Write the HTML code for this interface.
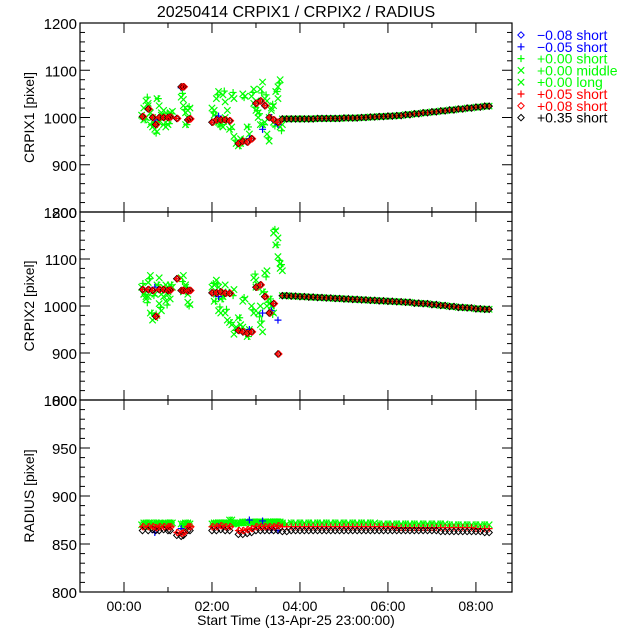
<!DOCTYPE html>
<html><head><meta charset="utf-8"><style>
body{margin:0;background:#fff}
svg{display:block;font-family:"Liberation Sans",sans-serif}
</style></head><body>
<svg id="chart" width="640" height="640" viewBox="0 0 640 640" xmlns="http://www.w3.org/2000/svg">
<rect width="640" height="640" fill="#fff"/>
<text x="296" y="17" font-size="16" text-anchor="middle">20250414 CRPIX1 / CRPIX2 / RADIUS</text>
<g id="axes"></g><g id="marks"></g><g id="legend"></g>
<text x="296" y="625" font-size="14" text-anchor="middle">Start Time (13-Apr-25 23:00:00)</text>
</svg>
<script>
// ---- data ----
const xTicks=["00:00","02:00","04:00","06:00","08:00"];
const xTickHours=[0,2,4,6,8];
const p1Ticks=[800,900,1000,1100,1200];
const p3Ticks=[800,850,900,950,1000];
const tTail=[3.6,3.8,4.0,4.2,4.4,4.6,4.8,5.0,5.2,5.4,5.6,5.8,6.0,6.2,6.4,6.6,6.8,7.0,7.2,7.4,7.6,7.8,8.0,8.2];
const c1Tail=[997,997,997,997,998,998,998,999,999,1000,1001,1002,1003,1004,1006,1008,1010,1012,1014,1016,1018,1020,1022,1024];
const c2Tail=[1022,1021,1020,1019,1018,1017,1016,1015,1014,1013,1012,1011,1010,1009,1008,1006,1005,1003,1001,999,997,996,994,993];
const rTailBlack=[863,864,864,864,864,864,864,864,864,864,864,864,864,864,864,864,864,864,863,863,863,863,863,862];
const rTailRed=[868,868,868,868,868,868,868,868,868,868,868,868,868,867,867,867,867,867,867,867,867,867,866,866];
const rTailGreen=[871,872,872,872,872,872,872,872,872,872,872,871,871,871,871,871,871,871,871,870,870,870,870,870];
const tEarly=[0.42,0.55,0.65,0.72,0.8,0.9,1.0,1.05,1.2,1.3,1.35,1.45,1.5,2.0,2.1,2.2,2.3,2.4,2.6,2.7,2.8,2.9,3.0,3.1,3.2,3.3,3.4,3.5];
const c1Early=[1002,1018,1000,985,1000,1000,1000,1001,998,1065,1065,995,997,990,995,995,995,993,945,950,948,955,1030,1035,1025,1000,995,990];
const c2Early=[1035,1035,1033,978,1035,1035,1033,1034,1058,1033,1033,1032,1033,1028,1028,1030,1027,1027,948,945,942,945,1040,1045,1020,985,1005,898];
const rEarlyBlack=[864,864,865,864,864,865,864,864,859,858,859,864,864,864,864,865,864,864,860,860,861,862,864,864,864,864,864,864];
const rEarlyRed=[868,868,868,867,868,868,868,868,862,861,862,868,868,868,868,869,868,868,864,864,865,866,868,868,868,868,868,869];
const tGreen=[0.4,0.45,0.5,0.55,0.6,0.65,0.7,0.75,0.8,0.85,0.9,0.95,1.0,1.05,1.3,1.35,1.4,1.45,2.0,2.05,2.1,2.15,2.2,2.25,2.3,2.4,2.45,2.5,2.6,2.65,2.7,2.8,2.9,2.95,3.0,3.05,3.1,3.15,3.2,3.25,3.3,3.35,3.4,3.45,3.5,3.55];
const c1Green=[1005,995,1035,1025,985,980,975,1040,990,1010,985,1000,995,1008,1043,1025,985,1015,1020,1005,1040,990,985,1048,1000,975,1045,960,940,945,1050,980,1045,1030,1015,1000,1060,985,1040,965,1000,1020,990,1055,1065,980];
const c2Green=[1040,1025,1015,1050,985,1030,975,1045,1005,1025,1040,1010,1030,1045,1060,1030,1040,1008,1040,1010,1055,990,1015,1030,985,965,1030,940,975,960,1010,935,1000,1060,1040,985,960,1030,1070,1000,1015,990,1155,1130,1105,1080];
const rGreen=[870,872,871,868,872,870,870,872,871,871,870,872,871,872,871,868,872,871,871,872,871,872,872,871,872,875,872,871,872,872,873,872,873,872,873,872,872,873,872,872,873,873,872,873,873,872];
const tBlue=[0.7,1.3,2.15,2.85,3.15,3.35,3.5];
const c1Blue=[995,1063,1003,955,975,1000,985];
const c2Blue=[1040,1033,1020,950,985,990,970];
const rBlue=[862,866,868,875,874,865,864];
// ---- scales ----
const X0=80,X1=512,TMIN=-1.0,TMAX=8.82;
const panels=[{top:23,bot:212,min:800,max:1200},{top:212,bot:400,min:800,max:1200},{top:400,bot:592,min:800,max:1000}];
const xs=t=>X0+(t-TMIN)/(TMAX-TMIN)*(X1-X0);
const ys=(p,v)=>{const P=panels[p];return P.bot-(v-P.min)/(P.max-P.min)*(P.bot-P.top);};
const NS="http://www.w3.org/2000/svg";
function mk(tag,attrs,parent){const e=document.createElementNS(NS,tag);for(const k in attrs)e.setAttribute(k,attrs[k]);parent.appendChild(e);return e;}
const axes=document.getElementById('axes'),marks=document.getElementById('marks'),legend=document.getElementById('legend');
panels.forEach((P,i)=>{
  const fr=mk('rect',{x:X0,y:P.top,width:X1-X0,height:P.bot-P.top,fill:'none',stroke:'#000','stroke-width':1.2},axes);
  
  
  for(let h=-1;h<=8;h++){const x=xs(h);const L=(h%2===0)?10:5;
    mk('line',{x1:x,x2:x,y1:P.bot,y2:P.bot-L,stroke:'#000'},axes);
    mk('line',{x1:x,x2:x,y1:P.top,y2:P.top+L,stroke:'#000'},axes);}
  const ticks=i<2?p1Ticks:p3Ticks;const step=i<2?20:10;
  for(let v=P.min;v<=P.max;v+=step){const y=ys(i,v);const maj=ticks.includes(v);const L=maj?10:5;
    mk('line',{x1:X0,x2:X0+L,y1:y,y2:y,stroke:'#000'},axes);
    mk('line',{x1:X1,x2:X1-L,y1:y,y2:y,stroke:'#000'},axes);}
  ticks.forEach(v=>{const t=mk('text',{x:X0-3,y:ys(i,v)+6,'font-size':15,'text-anchor':'end'},axes);t.textContent=v;
    
    });
  const lab=['CRPIX1 [pixel]','CRPIX2 [pixel]','RADIUS [pixel]'][i];
  const cy=(P.top+P.bot)/2;
  const yt=mk('text',{x:0,y:0,'font-size':14,'text-anchor':'middle',transform:`translate(34,${cy}) rotate(-90)`},axes);yt.textContent=lab;
  
  
});
xTicks.forEach((s,j)=>{const t=mk('text',{x:xs(xTickHours[j]),y:611,'font-size':14,'text-anchor':'middle'},axes);t.textContent=s;
  
  });
function sym(type,x,y,col,g){
  if(type==='d')mk('path',{d:`M${x} ${y-3.2}L${x+3.2} ${y}L${x} ${y+3.2}L${x-3.2} ${y}Z`,fill:'none',stroke:col,'stroke-width':1},g);
  else if(type==='p')mk('path',{d:`M${x-3.5} ${y}H${x+3.5}M${x} ${y-3.5}V${y+3.5}`,stroke:col,'stroke-width':1.2},g);
  else mk('path',{d:`M${x-3.2} ${y-3.2}L${x+3.2} ${y+3.2}M${x-3.2} ${y+3.2}L${x+3.2} ${y-3.2}`,stroke:col,'stroke-width':1.2},g);
}
function series(name,type,col,ts,a,b,r){
  const g=mk('g',{},marks);
  
  
  ts.forEach((t,k)=>{const x=xs(t);
    sym(type,x,ys(0,a[k]),col,g);sym(type,x,ys(1,b[k]),col,g);sym(type,x,ys(2,r[k]),col,g);});
}
const G='#00ff00';
const tTailB=tTail.map(t=>t+0.1);
series('series-green-long','x',G,tGreen.concat(tTail,tTailB),c1Green.concat(c1Tail,c1Tail),c2Green.concat(c2Tail,c2Tail),rGreen.concat(rTailGreen,rTailGreen));
series('series-green-middle','x',G,tGreen.map(t=>t+0.05),c1Green.map((v,k)=>v-(k%4-1.5)*10),c2Green.map((v,k)=>v+(k%4-1.5)*10),rGreen);
series('series-green-short','p',G,tGreen.map(t=>t+0.03).concat(tTail),c1Green.map((v,k)=>v+(k%3-1)*8).concat(c1Tail),c2Green.map((v,k)=>v-(k%3-1)*8).concat(c2Tail),rGreen.concat(rTailGreen));
series('series-blue-short-plus','p','#0000ff',tBlue,c1Blue,c2Blue,rBlue);
series('series-red-short-plus','p','#ff0000',tEarly.concat(tTail,tTailB),c1Early.concat(c1Tail,c1Tail),c2Early.concat(c2Tail,c2Tail),rEarlyRed.concat(rTailRed,rTailRed));
series('series-black-diamond','d','#000000',tEarly.concat(tTail,tTailB),c1Early.concat(c1Tail,c1Tail),c2Early.concat(c2Tail,c2Tail),rEarlyBlack.concat(rTailBlack,rTailBlack));
series('series-red-diamond','d','#ff0000',tEarly.map(t=>t+0.02),c1Early,c2Early,rEarlyRed);
const legTypes=['d','p','p','x','x','p','d','d'];
const legCols=['#0000ff','#0000ff',G,G,G,'#ff0000','#ff0000','#000000'];
const legSym=['#0000ff','#0000ff',G,G,G,'#ff0000','#ff0000','#000000'];
const legLabels=['\u22120.08 short','\u22120.05 short','+0.00 short','+0.00 middle','+0.00 long','+0.05 short','+0.08 short','+0.35 short'];
legLabels.forEach((s,k)=>{const y=35+k*11.8;
  const g=mk('g',{},legend);
  
  
  sym(legTypes[k],521,y,legSym[k],g);
  const t=mk('text',{x:537,y:y+5,'font-size':14,fill:legCols[k]},g);t.textContent=s;});
</script>
</body></html>
